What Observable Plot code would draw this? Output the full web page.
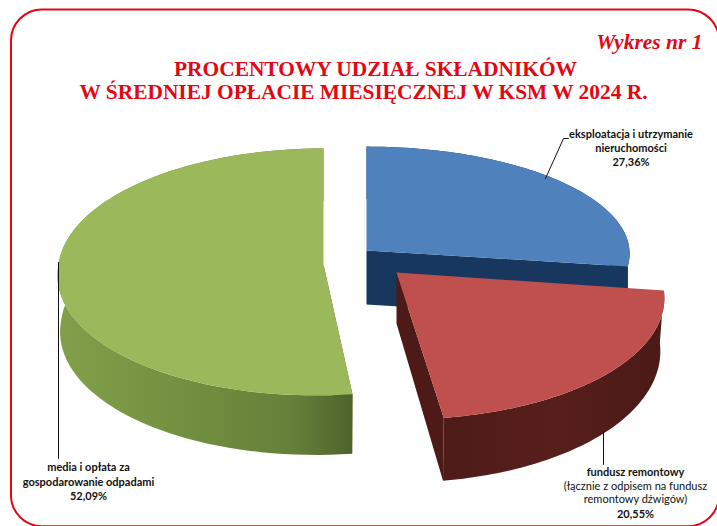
<!DOCTYPE html>
<html lang="pl">
<head>
<meta charset="utf-8">
<style>html,body{margin:0;padding:0;background:#fff;overflow:hidden}svg{display:block}</style>
<script src="https://cdn.jsdelivr.net/npm/d3@7"></script>
<script src="https://cdn.jsdelivr.net/npm/@observablehq/plot@0.6"></script>
</head>
<body>
<div id="chart"></div>
<script>
// ---- data ----
const categories = ["eksploatacja", "fundusz", "media"];
const shares = [27.36, 20.55, 52.09];
const labelLines = [
  ["eksploatacja i utrzymanie", "nieruchomości"],
  ["fundusz remontowy"],
  ["media i opłata za", "gospodarowanie odpadami"]
];
const noteLines = ["(łącznie z odpisem na fundusz", "remontowy dźwigów)"];
const titleLines = ["PROCENTOWY UDZIAŁ SKŁADNIKÓW", "W ŚREDNIEJ OPŁACIE MIESIĘCZNEJ W KSM W 2024 R."];
const chartTag = "Wykres nr 1";

// ---- colours ----
const topColors = ["#4f81bd", "#c0504d", "#9bb85a"];
const sideColors = ["#17375e", "url(#redSide)", "url(#greenSide)"];
const faceColors = ["#17375e", "#4d1a17", "#4f6228"];
const red = "#e30613";

// ---- 3D view of each exploded slice ----
const view = [
  {ax: 366, ay: 250, rx: 263, rz: 107, k: 0.03, skew: 0, depth: 54, foot: 1},
  {ax: 396, ay: 272, rx: 262, rz: 119, k: 0.19, skew: 5, depth: 51, foot: 0.985},
  {ax: 323, ay: 264, rx: 265, rz: 123, k: 0.06, skew: -8, depth: 56, foot: 0.99}
];
const W = 717, H = 526;

function project(v, theta, r, lower) {
  const X = r * Math.sin(theta), Z = -r * Math.cos(theta);
  const s = 1 / (1 - v.k * Z);
  const f = lower ? v.foot : 1;
  return {
    x: v.ax + f * (v.rx * X * s + v.skew * Math.max(Z, 0)),
    y: v.ay + v.rz * Z * s + (lower ? v.depth * s : 0)
  };
}
const total = d3.sum(shares);
const cum = d3.cumsum(shares);
const bounds = shares.map((d, i) => [
  (cum[i] - d) / total * 2 * Math.PI,
  cum[i] / total * 2 * Math.PI
]);
function arc(v, a, b, lower) {
  const n = 80;
  return d3.range(n + 1).map(j => project(v, a + (b - a) * j / n, 1, lower));
}
const topPoly = i => {
  const v = view[i], [a, b] = bounds[i];
  return [project(v, 0, 0, false), ...arc(v, a, b, false)];
};
const rimPoly = i => {
  const v = view[i], [a, b] = bounds[i];
  return [...arc(v, a, b, false), ...arc(v, a, b, true).reverse()];
};
const facePoly = i => {
  const v = view[i], b = bounds[i][i === 2 ? 0 : 1];
  return [project(v, b, 0, false), project(v, b, 1, false), project(v, b, 1, true), project(v, b, 0, true)];
};
const sliceMarks = i => [
  Plot.line(facePoly(i), {x: "x", y: "y", fill: faceColors[i], stroke: "none"}),
  Plot.line(rimPoly(i), {x: "x", y: "y", fill: sideColors[i], stroke: "none"}),
  Plot.line(topPoly(i), {x: "x", y: "y", fill: topColors[i], stroke: "none"})
];

const gradients = () => {
  const svg = d3.create("svg:g");
  const defs = svg.append("defs");
  const add = (id, stops) => {
    const g = defs.append("linearGradient").attr("id", id);
    stops.forEach(([o, c]) => g.append("stop").attr("offset", o).attr("stop-color", c));
  };
  add("greenSide", [[0, "#82a04a"], [0.45, "#728f40"], [0.8, "#65803a"], [1, "#4f622c"]]);
  add("redSide", [[0, "#4e1b18"], [0.5, "#571f1b"], [1, "#4a1a17"]]);
  return svg.node();
};

const pct = v => v.toFixed(2).replace(".", ",") + "%";
const sans = "Lato, 'Open Sans', sans-serif";
const serif = "'Liberation Serif', serif";
const ink = "#111";

const boldLabels = [
  {t: labelLines[0][0], x: 630.5, y: 134},
  {t: labelLines[0][1], x: 630.5, y: 148},
  {t: pct(shares[0]), x: 630.5, y: 162},
  {t: labelLines[1][0], x: 635, y: 472},
  {t: pct(shares[1]), x: 635, y: 514},
  {t: labelLines[2][0], x: 88, y: 467},
  {t: labelLines[2][1], x: 88, y: 482},
  {t: pct(shares[2]), x: 88, y: 496}
];
const noteLabels = [
  {t: noteLines[0], x: 635, y: 486},
  {t: noteLines[1], x: 635, y: 499}
];
const leaders = [
  {k: "a", pts: [[545, 178], [563, 138], [568, 138]]},
  {k: "b", pts: [[603, 431], [603, 464]]},
  {k: "c", pts: [[58, 262], [58, 458]]}
].flatMap(l => l.pts.map(([x, y]) => ({k: l.k, x, y})));

const plot = Plot.plot({
  width: W, height: H,
  margin: 0,
  x: {domain: [0, W], range: [0, W], axis: null},
  y: {domain: [0, H], range: [0, H], axis: null},
  marks: [
    gradients,
    Plot.rect([{}], {x1: () => 11, x2: () => 719, y1: () => 9.5, y2: () => 526.2, rx: 31, fill: "none", stroke: red, strokeWidth: 2}),
    Plot.text([chartTag], {x: () => 702, y: () => 42, text: d => d, textAnchor: "end", fontFamily: serif, fontWeight: "bold", fontStyle: "italic", fontSize: 21.5, fill: red}),
    Plot.text(titleLines, {x: (d, i) => [375, 363][i], y: (d, i) => [69, 91.5][i], text: d => d, fontFamily: serif, fontWeight: "bold", fontSize: 21.4, fill: red}),
    ...sliceMarks(0),
    ...sliceMarks(2),
    ...sliceMarks(1),
    Plot.line(leaders, {x: "x", y: "y", z: "k", stroke: "#111", strokeWidth: 1}),
    Plot.text(boldLabels, {x: "x", y: "y", text: "t", fontFamily: sans, fontWeight: "bold", fontSize: 11, fill: ink}),
    Plot.text(noteLabels, {x: "x", y: "y", text: "t", fontFamily: sans, fontSize: 11, fill: ink})
  ]
});
document.getElementById("chart").append(plot);
</script>
</body>
</html>
